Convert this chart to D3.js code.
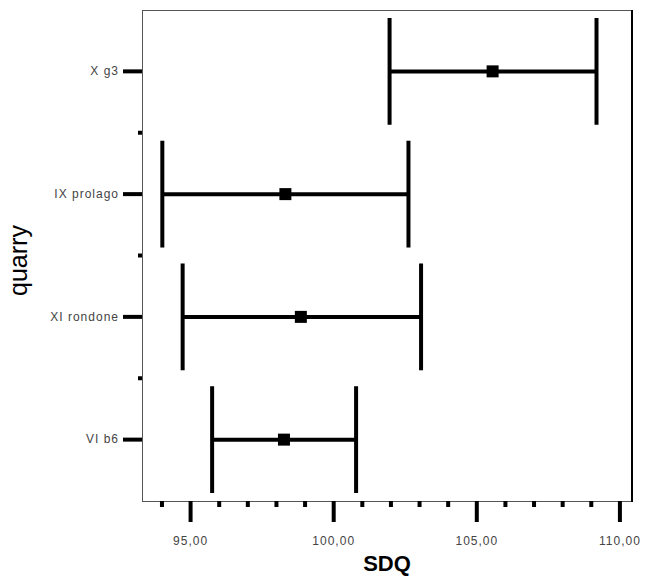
<!DOCTYPE html>
<html>
<head>
<meta charset="utf-8">
<script src="https://cdn.jsdelivr.net/npm/d3@7"></script>
<style>
  html, body { margin: 0; padding: 0; background: #fff; }
  svg { display: block; }
  text { font-family: "Liberation Sans", Arial, sans-serif; }
</style>
</head>
<body>
<svg id="chart" width="652" height="576"></svg>
<script>
// ---- data ----
const categories = ["X g3", "IX prolago", "XI rondone", "VI b6"];
const means      = [105.57, 98.33, 98.87, 98.28];
const lowers     = [101.97, 94.03, 94.74, 95.77];
const uppers     = [109.20, 102.63, 103.07, 100.80];
const xMajorTicks = [95, 100, 105, 110];
const xMinorTicks = [94, 96, 97, 98, 99, 101, 102, 103, 104, 106, 107, 108, 109];
const xDomain = [93.32, 110.44];
const xTitle = "SDQ";
const yTitle = "quarry";

// ---- layout ----
const svg = d3.select("#chart");
const L = 142, R = 632, T = 10, B = 501;

const x = d3.scaleLinear().domain(xDomain).range([L, R]);
const y = d3.scaleBand().domain(categories).range([T, B]).padding(0);

const locale = d3.formatLocale({decimal: ",", thousands: ".", grouping: [3], currency: ["", ""]});
const fmt = locale.format(".2f");

// frame
svg.append("rect")
  .attr("x", L + 0.5).attr("y", T + 0.5)
  .attr("width", R - L - 1).attr("height", B - T)
  .attr("fill", "none").attr("stroke", "#555").attr("stroke-width", 1);
svg.append("line")
  .attr("x1", R).attr("x2", R).attr("y1", T).attr("y2", B + 1)
  .attr("stroke", "#000").attr("stroke-width", 2);

// x axis major
const xAxisMajor = svg.append("g").attr("transform", `translate(0,${B})`)
  .call(d3.axisBottom(x).tickValues(xMajorTicks).tickSize(21).tickPadding(14).tickFormat(fmt));
xAxisMajor.select(".domain").remove();
xAxisMajor.selectAll(".tick line").attr("stroke", "#000").attr("stroke-width", 4);
xAxisMajor.selectAll(".tick text")
  .attr("font-size", 12).attr("fill", "#444").attr("letter-spacing", "1px")
  .attr("font-family", "'Liberation Sans', Arial, sans-serif");

// x axis minor
const xAxisMinor = svg.append("g").attr("transform", `translate(0,${B})`)
  .call(d3.axisBottom(x).tickValues(xMinorTicks).tickSize(6).tickFormat(""));
xAxisMinor.select(".domain").remove();
xAxisMinor.selectAll(".tick line").attr("stroke", "#000").attr("stroke-width", 4);

// y axis major
const yAxis = svg.append("g").attr("transform", `translate(${L},0)`)
  .call(d3.axisLeft(y).tickSize(19).tickPadding(4));
yAxis.select(".domain").remove();
yAxis.selectAll(".tick line").attr("stroke", "#000").attr("stroke-width", 4);
yAxis.selectAll(".tick text")
  .attr("font-size", 12).attr("fill", "#444").attr("letter-spacing", "1px")
  .attr("font-family", "'Liberation Sans', Arial, sans-serif");

// y axis minor (band boundaries)
const boundaries = categories.slice(1);
svg.append("g").selectAll("rect").data(boundaries).join("rect")
  .attr("x", L - 4).attr("width", 4)
  .attr("y", d => y(d) - 2).attr("height", 4)
  .attr("fill", "#000");

// error bars
const rows = categories.map((c, i) => ({c, m: means[i], lo: lowers[i], hi: uppers[i]}));
const capHalf = y.bandwidth() * 0.435;
const g = svg.append("g");
rows.forEach(d => {
  const cy = y(d.c) + y.bandwidth() / 2;
  g.append("line").attr("x1", x(d.lo)).attr("x2", x(d.hi)).attr("y1", cy).attr("y2", cy)
    .attr("stroke", "#000").attr("stroke-width", 4);
  [d.lo, d.hi].forEach(v => {
    g.append("line").attr("x1", x(v)).attr("x2", x(v))
      .attr("y1", cy - capHalf).attr("y2", cy + capHalf)
      .attr("stroke", "#000").attr("stroke-width", 4);
  });
  g.append("rect").attr("x", x(d.m) - 6).attr("y", cy - 6)
    .attr("width", 12).attr("height", 12).attr("fill", "#000");
});

// titles
svg.append("text").attr("x", (L + R) / 2).attr("y", 571)
  .attr("text-anchor", "middle").attr("font-size", 22).attr("font-weight", "bold")
  .attr("fill", "#000").text(xTitle);
svg.append("text").attr("transform", `translate(27,${(T + B) / 2 + 5}) rotate(-90)`)
  .attr("text-anchor", "middle").attr("font-size", 25).attr("fill", "#000").text(yTitle);
</script>
</body>
</html>
